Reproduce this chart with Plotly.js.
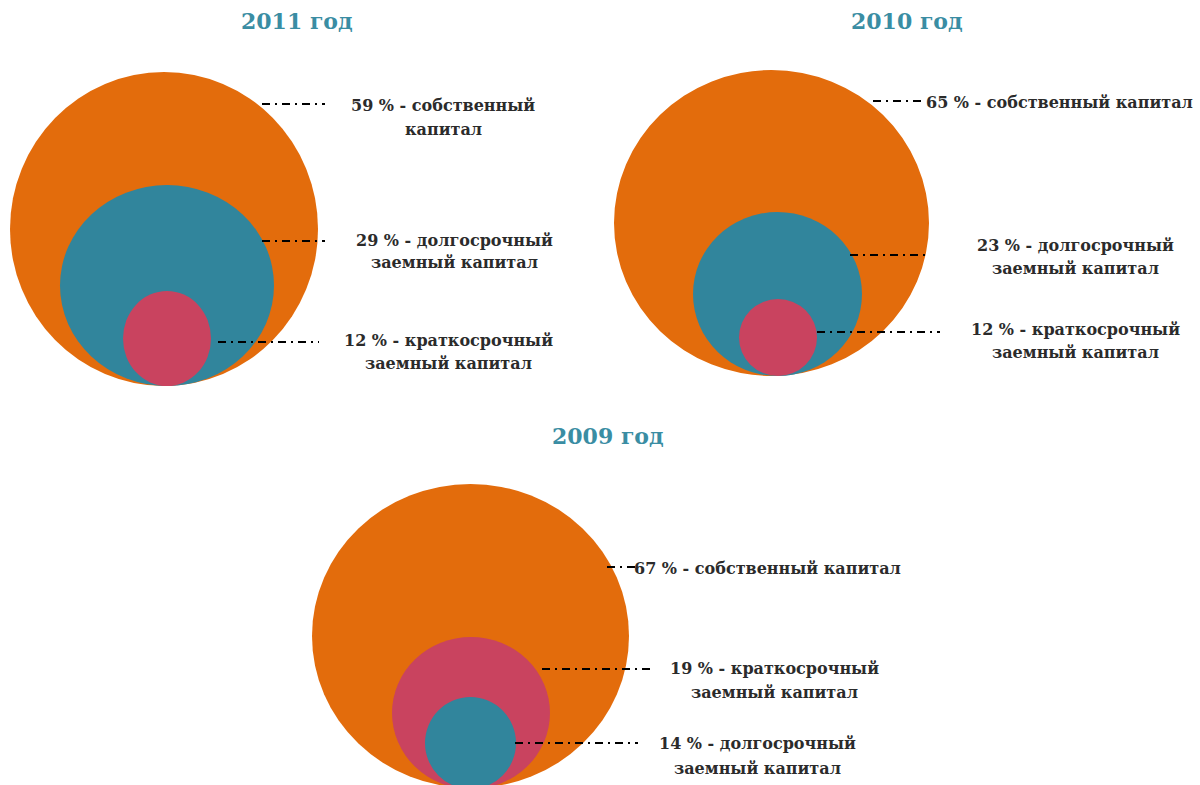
<!DOCTYPE html>
<html>
<head>
<meta charset="utf-8">
<script src="https://cdn.plot.ly/plotly-3.0.1.min.js"></script>
<style>
  html, body { margin: 0; padding: 0; background: #ffffff; }
  #chart { width: 1200px; height: 785px; }
</style>
</head>
<body>
<div id="chart"></div>
<script>
// ---------- DATA ----------
const years = ['2011 год', '2010 год', '2009 год'];

const shares2011 = [59, 29, 12];
const kinds2011 = ['собственный капитал', 'долгосрочный заемный капитал', 'краткосрочный заемный капитал'];

const shares2010 = [65, 23, 12];
const kinds2010 = ['собственный капитал', 'долгосрочный заемный капитал', 'краткосрочный заемный капитал'];

const shares2009 = [67, 19, 14];
const kinds2009 = ['собственный капитал', 'краткосрочный заемный капитал', 'долгосрочный заемный капитал'];

// ---------- STYLE / LAYOUT ----------
const kindColor = {
  'собственный': '#E36C0C',
  'долгосрочный': '#31859C',
  'краткосрочный': '#C9435F'
};
const titleColor = '#3A8DA3';
const textColor = '#2B2B2B';
const labelFont = 'DejaVu Serif, Liberation Serif, serif';

// panel geometry in pixel-like axis units (x: 0..1200, y: 0..785 top-down)
const panels = [
  {
    title: [297, 21],
    boxes: [[10, 318, 72, 386], [60, 274, 185, 386], [123, 211, 291, 386]],
    leaders: [[262, 325, 104], [262, 325, 241], [218, 319, 342]],
    labels: [
      {wrap: true, x: 443, y: [105, 129]},
      {wrap: true, x: 454, y: [240, 262]},
      {wrap: true, x: 448, y: [340, 363]}
    ]
  },
  {
    title: [907, 21],
    boxes: [[614, 929, 70, 376], [693, 862, 212, 376], [739, 817, 299, 376]],
    leaders: [[873, 925, 101], [850, 927, 255], [817, 940, 332]],
    labels: [
      {wrap: false, x: 924, y: [102], left: true},
      {wrap: true, x: 1075, y: [245, 268]},
      {wrap: true, x: 1075, y: [329, 352]}
    ]
  },
  {
    title: [608, 436],
    boxes: [[312, 629, 484, 788], [392, 550, 637, 789], [425, 516, 697, 789]],
    leaders: [[607, 635, 567], [542, 652, 669], [515, 638, 743]],
    labels: [
      {wrap: false, x: 632, y: [568], left: true},
      {wrap: true, x: 774, y: [668, 692]},
      {wrap: true, x: 757, y: [743, 768]}
    ]
  }
];

const allShares = [shares2011, shares2010, shares2009];
const allKinds = [kinds2011, kinds2010, kinds2009];

const shapes = [];
const annotations = [];

panels.forEach((p, i) => {
  annotations.push({
    x: p.title[0], y: p.title[1], xref: 'x', yref: 'y',
    text: '<b>' + years[i] + '</b>', showarrow: false,
    xanchor: 'center', yanchor: 'middle',
    font: {family: labelFont, size: 22, color: titleColor}
  });
  allShares[i].forEach((v, j) => {
    const kind = allKinds[i][j];
    const first = kind.split(' ')[0];
    const b = p.boxes[j];
    shapes.push({
      type: 'circle', xref: 'x', yref: 'y',
      x0: b[0], x1: b[1], y0: b[2], y1: b[3],
      fillcolor: kindColor[first], line: {width: 0}, layer: 'above'
    });
  });
  allShares[i].forEach((v, j) => {
    const kind = allKinds[i][j];
    const words = kind.split(' ');
    const L = p.leaders[j];
    shapes.push({
      type: 'line', xref: 'x', yref: 'y',
      x0: L[0], x1: L[1], y0: L[2], y1: L[2],
      line: {color: '#000000', width: 2, dash: '8px,5px,2px,5px'}, layer: 'above'
    });
    const lab = p.labels[j];
    const lines = lab.wrap
      ? [v + ' % - ' + words[0], words.slice(1).join(' ')]
      : [v + ' % - ' + kind];
    lines.forEach((t, k) => {
      annotations.push({
        x: lab.x, y: lab.y[k], xref: 'x', yref: 'y',
        text: '<b>' + t + '</b>', showarrow: false,
        xanchor: lab.left ? 'left' : 'center', yanchor: 'middle',
        font: {family: labelFont, size: 16, color: textColor}
      });
    });
  });
});

const layout = {
  width: 1200, height: 785,
  margin: {l: 0, r: 0, t: 0, b: 0},
  paper_bgcolor: '#ffffff', plot_bgcolor: '#ffffff',
  showlegend: false,
  xaxis: {range: [0, 1200], visible: false, fixedrange: true},
  yaxis: {range: [785, 0], visible: false, fixedrange: true},
  shapes: shapes,
  annotations: annotations
};

Plotly.newPlot('chart', [{x: [], y: [], type: 'scatter', hoverinfo: 'skip'}], layout, {staticPlot: true, displayModeBar: false});
</script>
</body>
</html>
